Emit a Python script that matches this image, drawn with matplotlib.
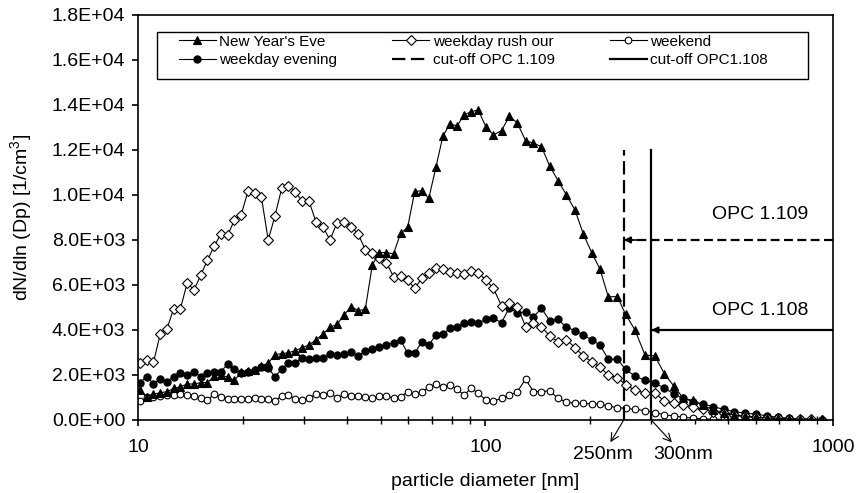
import matplotlib
matplotlib.use('Agg')
import matplotlib.pyplot as plt
from matplotlib.patches import Rectangle
from matplotlib.ticker import FixedLocator, LogLocator, FuncFormatter, NullFormatter

plt.rcParams['font.family'] = ['Liberation Sans', 'DejaVu Sans']
plt.rcParams['mathtext.default'] = 'regular'

# particle diameter [nm]
diameter = [10.13, 10.59, 11.08, 11.59, 12.12, 12.67, 13.25, 13.86, 14.49, 15.15,
            15.85, 16.57, 17.33, 18.12, 18.95, 19.82, 20.72, 21.67, 22.66, 23.70,
            24.78, 25.92, 27.10, 28.34, 29.60,
            31.02, 32.50, 34.06, 35.69, 37.40, 39.19, 41.07, 43.03, 45.09, 47.25,
            49.52, 51.89, 54.37, 56.98, 59.70, 62.56, 65.56, 68.70, 71.99, 75.43,
            79.05, 82.83, 86.80, 90.96, 95.31,
            100.2, 105.4, 111.2, 117.2, 123.6, 130.4, 137.4, 144.9, 153.0, 161.7,
            171.0, 181.0, 191.2, 202.1, 213.6, 225.6, 239.8, 252.9, 269.3, 287.7,
            307.4, 327.4, 348.7, 371.3, 395.5, 422.6, 453.0, 485.7, 520.6, 558.2,
            600.4, 645.8, 694.6, 747.1, 803.6, 864.4, 929.7]

new_years_eve = [1330, 1040, 1150, 1210, 1260, 1400, 1480, 1600, 1600, 1660,
                 1660, 1950, 2000, 1900, 1760, 2130, 2190, 2240, 2400, 2530,
                 2900, 2950, 2990, 3080, 3210,
                 3330, 3560, 3820, 4120, 4250, 4670, 5040, 4860, 4920, 6890,
                 7440, 7440, 7380, 8300, 8560, 10150, 10190, 9850, 11230, 12620,
                 13160, 13070, 13560, 13700, 13780,
                 13040, 12670, 12860, 13510, 13190, 12420, 12300, 12150, 11290, 10640,
                 10000, 9330, 8270, 7440, 6700, 5480, 5480, 4700, 4000, 2890,
                 2840, 2050, 1500, 960, 870, 650, 450, 330, 220, 160,
                 120, 90, 70, 50, 40, 30, 30]

weekday_rush = [2520, 2670, 2560, 3820, 4060, 4950, 4950, 6100, 5780, 6430,
                7110, 7730, 8270, 8210, 8890, 9130, 10160, 10070, 9900, 8000,
                9070, 10300, 10400, 10150, 9750,
                9750, 8820, 8590, 8000, 8770, 8820, 8590, 8270, 7560, 7440,
                7190, 6990, 6370, 6400, 6220, 5850, 6300, 6520, 6770, 6700,
                6590, 6550, 6470, 6640, 6550,
                6220, 5850, 5070, 5220, 5040, 4150, 4300, 4150, 3730, 3480,
                3560, 3220, 2840, 2590, 2340, 2000, 1880, 1560, 1330, 1190,
                1200, 830, 750, 670, 590, 470, 370, 290, 220, 170,
                130, 100, 80, 60, 40, 30, 20]

weekend = [830, 1000, 1000, 1070, 1100, 1100, 1150, 1100, 1070, 960,
           890, 1150, 1040, 950, 920, 950, 950, 980, 950, 920,
           860, 1070, 1100, 920, 870,
           960, 1150, 1110, 1220, 960, 1150, 1070, 1070, 1010, 960,
           1070, 1070, 960, 1010, 1260, 1150, 1260, 1450, 1600, 1480,
           1560, 1360, 1110, 1410, 1190,
           890, 840, 960, 1110, 1260, 1820, 1260, 1260, 1300, 960,
           790, 740, 740, 710, 710, 620, 550, 520, 470, 420,
           330, 230, 180, 120, 80, 50, 30, 30, 20, 20,
           20, 20, 20, 10, 10, 10, 10]

weekday_evening = [1660, 1930, 1620, 1810, 1700, 1930, 2100, 1990, 2140, 1930,
                   2070, 2150, 2150, 2490, 2260, 2070, 2150, 2220, 2370, 2300,
                   1930, 2260, 2520, 2550, 2740,
                   2700, 2740, 2740, 2930, 2890, 2930, 3040, 2840, 3080, 3140,
                   3260, 3330, 3440, 3560, 2960, 2960, 3480, 3330, 3780, 3820,
                   4070, 4120, 4330, 4340, 4300,
                   4470, 4520, 4330, 4990, 4740, 4820, 4590, 4960, 4420, 4470,
                   4120, 3970, 3780, 3560, 3330, 2700, 2700, 2250, 1950, 1760,
                   1630, 1420, 1150, 960, 815, 710, 590, 470, 370, 300,
                   265, 180, 120, 75, 40, 20, 10]

# OPC cut-off sizes and annotation levels
cutoff_109 = 250
cutoff_108 = 300
cutoff_top = 12000
arrow_109_y = 8000
arrow_108_y = 4000

fig = plt.figure(figsize=(8.56, 4.93), dpi=100)
ax = fig.add_axes([0.1612, 0.1481, 0.8119, 0.8215])

lw = 0.8
l_we, = ax.plot(diameter, weekend, '-o', color='k', mfc='white', mec='k',
                ms=4.8, mew=0.8, lw=lw)
l_ev, = ax.plot(diameter, weekday_evening, '-o', color='k', mfc='k', mec='k',
                ms=5.2, mew=0.8, lw=lw)
l_ru, = ax.plot(diameter, weekday_rush, '-D', color='k', mfc='white', mec='k',
                ms=4.6, mew=0.8, lw=lw)
l_ny, = ax.plot(diameter, new_years_eve, '-^', color='k', mfc='k', mec='k',
                ms=6.3, mew=0.8, lw=lw)

# cut-off lines
l_109, = ax.plot([cutoff_109, cutoff_109], [0, cutoff_top], color='k', lw=1.6,
                 linestyle=(0, (6, 2.5)))
l_108, = ax.plot([cutoff_108, cutoff_108], [0, cutoff_top], color='k', lw=1.6)

# horizontal arrows from the right
ax.plot([cutoff_109, 1000], [arrow_109_y, arrow_109_y], color='k', lw=1.6,
        linestyle=(0, (4, 2)))
ax.plot([cutoff_108, 1000], [arrow_108_y, arrow_108_y], color='k', lw=1.6)
for xc, yc in [(cutoff_109, arrow_109_y), (cutoff_108, arrow_108_y)]:
    ax.annotate('', xy=(xc, yc), xytext=(10, 0), textcoords='offset points',
                arrowprops=dict(arrowstyle='-|>', color='k', lw=1.2,
                                mutation_scale=10, shrinkA=0, shrinkB=0),
                annotation_clip=False)

ax.text(850, 9150, 'OPC 1.109', ha='right', va='center', fontsize=14)
ax.text(850, 4880, 'OPC 1.108', ha='right', va='center', fontsize=14)

ax.annotate('250nm', xy=(cutoff_109, 0), xytext=(-15, -25), textcoords='offset points',
            ha='center', va='center', fontsize=14, annotation_clip=False,
            arrowprops=dict(arrowstyle='<-', color='k', lw=0.8, shrinkA=1, shrinkB=0))
ax.annotate('300nm', xy=(cutoff_108, 0), xytext=(23, -25), textcoords='offset points',
            ha='center', va='center', fontsize=14, annotation_clip=False,
            arrowprops=dict(arrowstyle='<-', color='k', lw=0.8, shrinkA=1, shrinkB=0))

ax.set_xscale('log')
ax.set_xlim(10, 1000)
ax.set_ylim(0, 18000)
ax.set_yticks(range(0, 18001, 2000))
ax.yaxis.set_major_formatter(FuncFormatter(lambda v, p: f'{v:.1E}'))
ax.xaxis.set_major_locator(FixedLocator([10, 100, 1000]))
ax.xaxis.set_major_formatter(FuncFormatter(lambda v, p: f'{v:g}'))
ax.xaxis.set_minor_locator(LogLocator(base=10, subs=range(2, 10)))
ax.xaxis.set_minor_formatter(NullFormatter())

for s in ax.spines.values():
    s.set_linewidth(1.2)
ax.tick_params(axis='y', which='major', direction='out', length=4, width=1.2,
               labelsize=14, pad=5)
ax.tick_params(axis='x', which='major', direction='out', length=4, width=1.2,
               labelsize=14, pad=10)
ax.tick_params(axis='x', which='minor', direction='inout', length=6, width=1.0)

ax.set_xlabel('particle diameter [nm]', fontsize=14)
ax.set_ylabel('dN/dln (Dp) [1/cm$^3$]', fontsize=14)
ax.xaxis.set_label_coords(0.5, -0.13)
ax.yaxis.set_label_coords(-0.15, 0.5)

# legend: entries without frame, box drawn separately (wider, like the original)
handles = [l_ny, l_ev, l_ru, l_109, l_we, l_108]
labels = ["New Year's Eve", 'weekday evening', 'weekday rush our',
          'cut-off OPC 1.109', 'weekend', 'cut-off OPC1.108']
leg = ax.legend(handles, labels, ncol=3, loc='upper left',
                bbox_to_anchor=(0.059, 0.951), fontsize=11, frameon=False,
                handlelength=2.4, handletextpad=0.25, columnspacing=3.6,
                labelspacing=0.3, borderpad=0, borderaxespad=0)
ax.add_patch(Rectangle((0.0273, 0.842), 0.9367, 0.116, transform=ax.transAxes,
                       facecolor='white', edgecolor='k', lw=1.0, zorder=4))
leg.set_zorder(5)

fig.savefig('out.png', dpi=100)
